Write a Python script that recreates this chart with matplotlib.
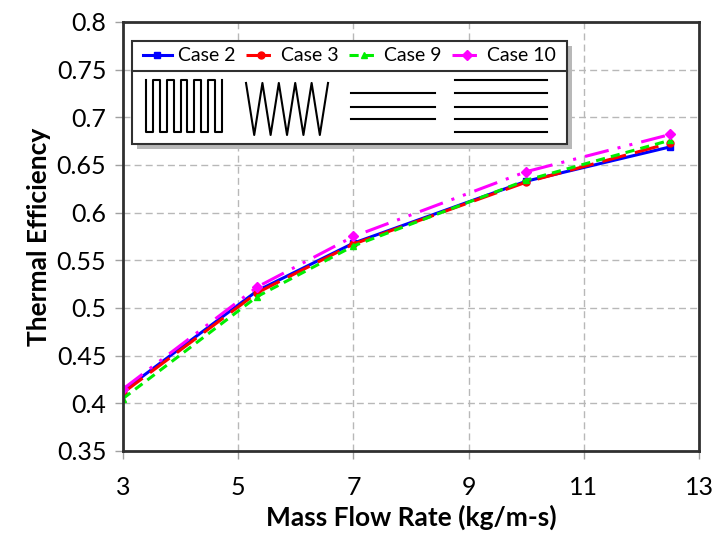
import matplotlib.pyplot as plt
from matplotlib.patches import Rectangle
from matplotlib.lines import Line2D
import numpy as np

plt.rcParams['font.family'] = ['Lato', 'DejaVu Sans']

# Datos
mass_flow = [3, 5.33, 7, 10, 12.5]
case2 = [0.413, 0.518, 0.568, 0.633, 0.669]
case3 = [0.411, 0.516, 0.567, 0.632, 0.673]
case9 = [0.405, 0.512, 0.565, 0.634, 0.676]
case10 = [0.415, 0.522, 0.575, 0.643, 0.682]

series = [
    ("Case 2", case2, '#0000ff', '-', 's'),
    ("Case 3", case3, '#ff0000', (0, (8, 3)), 'o'),
    ("Case 9", case9, '#00ee00', (0, (3, 2)), '^'),
    ("Case 10", case10, '#ff00ff', (0, (8, 3, 1, 3, 1, 3)), 'D'),
]

fig = plt.figure(figsize=(7.13, 5.41), dpi=100)
ax = fig.add_axes([0.1725, 0.1664, 0.808, 0.793])

for name, vals, col, ls, mk in series:
    ax.plot(mass_flow, vals, color=col, linestyle=ls, linewidth=2.2,
            marker=mk, markersize=5, label=name)

ax.set_xlim(3, 13)
ax.set_ylim(0.35, 0.8)
ax.set_xticks(np.arange(3, 14, 2))
yt = np.round(np.arange(0.35, 0.801, 0.05), 2)
ax.set_yticks(yt)
ax.set_yticklabels([f"{v:g}" for v in yt])
ax.grid(True, color='#b8b8b8', linestyle=(0, (5, 3)), linewidth=1)
ax.tick_params(axis='both', labelsize=18, direction='out', length=6,
               color='#a0a0a0', width=1)
ax.tick_params(axis='x', pad=12)
ax.tick_params(axis='y', pad=6)
for s in ax.spines.values():
    s.set_color('#303030')
    s.set_linewidth(2)

ax.set_xlabel('Mass Flow Rate (kg/m-s)', fontsize=19, fontweight='bold', labelpad=4)
ax.set_ylabel('Thermal Efficiency', fontsize=19, fontweight='bold', labelpad=4)

# Caja de leyenda con esquemas
T = ax.transAxes
def px(x, y):
    return ((x - 123) / 576, (451 - y) / 429)

x0, y0 = px(132, 144)
x1, y1 = px(567, 41)
shadow = Rectangle((x0 + 0.008, y0 - 0.012), x1 - x0, y1 - y0, transform=T,
                   facecolor='#b8b8b8', edgecolor='none', zorder=4)
ax.add_patch(shadow)
box = Rectangle((x0, y0), x1 - x0, y1 - y0, transform=T, facecolor='white',
                edgecolor='#303030', linewidth=1.5, zorder=5)
ax.add_patch(box)
_, yd = px(0, 71)
ax.add_line(Line2D([x0, x1], [yd, yd], transform=T, color='#303030', lw=1.5, zorder=6))

leg = ax.legend(loc='center', bbox_to_anchor=((x0 + x1) / 2, (yd + y1) / 2),
                bbox_transform=T, ncol=4, frameon=False, fontsize=14,
                handlelength=1.5, handletextpad=0.3, columnspacing=0.55,
                borderpad=0.1)
leg.set_zorder(7)

# Esquemas de los casos
def sch(xs, ys):
    pts = [px(a, b) for a, b in zip(xs, ys)]
    ax.add_line(Line2D([p[0] for p in pts], [p[1] for p in pts], transform=T,
                       color='black', lw=1.5, zorder=7))

# serpentín rectangular
xs_ser = np.linspace(146, 222, 12)
sx, sy = [xs_ser[0]], [80]
for i in range(0, 12, 2):
    xa, xb = xs_ser[i], xs_ser[i + 1]
    sx += [xa, xb, xb]
    sy += [132, 132, 80]
    if i + 2 < 12:
        sx.append(xs_ser[i + 2])
        sy.append(80)
sx = [xs_ser[0]] + sx
sy = [80] + sy
sch(sx, sy)

# zigzag
zx = np.linspace(246, 328, 11)
zy = [83 if i % 2 == 0 else 135 for i in range(11)]
sch(zx, zy)

# tres líneas
for yv in [93, 107, 119]:
    sch([351, 435], [yv, yv])
# cinco líneas
for yv in [80, 93, 107, 119, 132]:
    sch([455, 547], [yv, yv])

fig.savefig('out.png', dpi=100)
